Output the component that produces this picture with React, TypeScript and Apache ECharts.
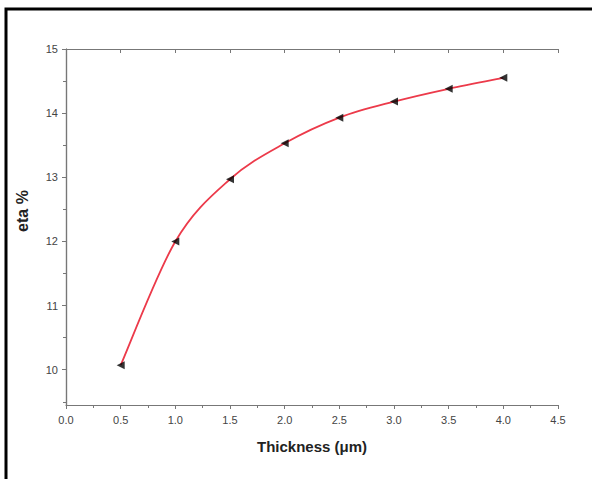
import React, { useEffect, useRef } from "react";
import * as echarts from "echarts";

const thickness = [0.5, 1.0, 1.5, 2.0, 2.5, 3.0, 3.5, 4.0];
const eta = [10.07, 12.0, 12.97, 13.53, 13.93, 14.18, 14.38, 14.55];
const xMajor = [0, 0.5, 1, 1.5, 2, 2.5, 3, 3.5, 4, 4.5];
const xMinor = [0.25, 0.75, 1.25, 1.75, 2.25, 2.75, 3.25, 3.75, 4.25];
const yMajor = [10, 11, 12, 13, 14, 15];
const yMinor = [9.5, 10.5, 11.5, 12.5, 13.5, 14.5];

const FONT = '"Liberation Sans Narrow", "Liberation Sans", Arial, sans-serif';
const AX = "#777";

export default function App() {
  const ref = useRef<HTMLDivElement>(null);
  useEffect(() => {
    const chart = echarts.init(ref.current!, null, { renderer: "svg" });
    const xBase = (extra: any) => ({
      type: "value",
      min: 0,
      max: 4.5,
      splitLine: { show: false },
      axisLine: { show: true, lineStyle: { color: AX, width: 1.2 } },
      ...extra,
    });
    const yBase = (extra: any) => ({
      type: "value",
      min: 9.45,
      max: 15,
      splitLine: { show: false },
      axisLine: { show: true, lineStyle: { color: AX, width: 1.2 } },
      ...extra,
    });
    const points = thickness.map((t, i) => [t, eta[i]]);
    chart.setOption({
      animation: false,
      backgroundColor: "#fff",
      grid: { left: 66, right: 34, top: 49, bottom: 74, containLabel: false },
      xAxis: [
        xBase({
          position: "bottom",
          name: "Thickness (\u03bcm)",
          nameLocation: "middle",
          nameGap: 34,
          nameTextStyle: { fontFamily: FONT, fontSize: 15, fontWeight: "bold", color: "#222" },
          axisTick: { show: true, customValues: xMajor, length: 4, inside: false, lineStyle: { color: AX } },
          axisLabel: {
            show: true,
            customValues: xMajor,
            formatter: (v: number) => v.toFixed(1),
            fontFamily: FONT,
            fontSize: 11,
            color: "#444",
            margin: 9,
          },
        }),
        xBase({
          position: "bottom",
          axisLine: { show: false },
          axisTick: { show: true, customValues: xMinor, length: 3, lineStyle: { color: AX } },
          axisLabel: { show: false },
        }),
        xBase({
          position: "top",
          axisTick: { show: true, customValues: xMajor, length: 4, inside: true, lineStyle: { color: AX } },
          axisLabel: { show: false },
        }),
      ],
      yAxis: [
        yBase({
          position: "left",
          axisTick: { show: true, customValues: yMajor, length: 4, lineStyle: { color: AX } },
          axisLabel: { show: true, customValues: yMajor, fontFamily: FONT, fontSize: 11, color: "#444", margin: 8 },
        }),
        yBase({
          position: "left",
          axisLine: { show: false },
          axisTick: { show: true, customValues: yMinor, length: 3, lineStyle: { color: AX } },
          axisLabel: { show: false },
        }),
        yBase({
          position: "right",
          axisTick: { show: true, customValues: yMajor, length: 4, inside: true, lineStyle: { color: AX } },
          axisLabel: { show: false },
        }),
      ],
      graphic: [
        {
          type: "rect",
          shape: { x: 6, y: 9, width: 620, height: 520 },
          style: { fill: "none", stroke: "#000", lineWidth: 3 },
          silent: true,
        },
        {
          type: "text",
          x: 22,
          y: 211,
          rotation: Math.PI / 2,
          style: {
            text: "eta %",
            fontFamily: "Liberation Sans, Arial, sans-serif",
            fontSize: 16,
            fontWeight: "bold",
            fill: "#222",
            align: "center",
            verticalAlign: "middle",
          },
          silent: true,
        },
      ],
      series: [
        {
          type: "custom",
          xAxisIndex: 0,
          yAxisIndex: 0,
          data: points,
          z: 2,
          renderItem: (params: any, api: any) => {
            if (params.dataIndex !== 0) return null;
            const P = points.map((p) => api.coord(p));
            const n = P.length;
            let d = `M${P[0][0]},${P[0][1]}`;
            for (let i = 0; i < n - 1; i++) {
              const p0 = P[Math.max(i - 1, 0)];
              const p1 = P[i];
              const p2 = P[i + 1];
              const p3 = P[Math.min(i + 2, n - 1)];
              const c1x = p1[0] + (p2[0] - p0[0]) / 6;
              const c1y = p1[1] + (p2[1] - p0[1]) / 6;
              const c2x = p2[0] - (p3[0] - p1[0]) / 6;
              const c2y = p2[1] - (p3[1] - p1[1]) / 6;
              d += ` C${c1x},${c1y} ${c2x},${c2y} ${p2[0]},${p2[1]}`;
            }
            return {
              type: "path",
              shape: { pathData: d },
              style: { fill: "none", stroke: "#ec3a4a", lineWidth: 1.8 },
            };
          },
        },
        {
          type: "scatter",
          xAxisIndex: 0,
          yAxisIndex: 0,
          data: points,
          z: 3,
          symbol: "triangle",
          symbolSize: 8,
          symbolRotate: 90,
          itemStyle: { color: "#000" },
        },
      ],
    });
    return () => chart.dispose();
  }, []);
  return (
    <div
      ref={ref}
      style={{ position: "absolute", left: 0, top: 0, width: 592, height: 479 }}
    />
  );
}
